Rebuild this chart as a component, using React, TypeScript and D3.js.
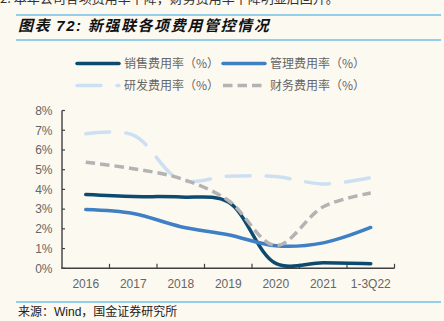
import React from 'react';
import * as d3 from 'd3';

const categories = ['2016', '2017', '2018', '2019', '2020', '2021', '1-3Q22'];
const salesRate = [3.74, 3.64, 3.61, 3.36, 0.25, 0.28, 0.23];
const adminRate = [2.98, 2.78, 2.11, 1.7, 1.14, 1.29, 2.07];
const rndRate = [6.82, 6.75, 4.47, 4.67, 4.65, 4.28, 4.59];
const finRate = [5.38, 5.05, 4.55, 3.44, 1.15, 3.12, 3.82];
const yTicks = [0, 1, 2, 3, 4, 5, 6, 7, 8];
const seriesNames = ['销售费用率（%）', '管理费用率（%）', '研发费用率（%）', '财务费用率（%）'];

const W = 444;
const H = 321;
const BG = '#fcf9f1';
const AXIS = '#404040';
const LABEL = '#666666';
const RULE = '#2ea3e0';
const LATIN = '"Liberation Sans", Arial, "Noto Sans CJK SC", sans-serif';
const CJK = '"Noto Sans CJK SC", "Liberation Sans", sans-serif';

const styles = [
  { color: '#0d4a70', dash: undefined as string | undefined, cap: 'round' },
  { color: '#3f7fc3', dash: undefined as string | undefined, cap: 'round' },
  { color: '#cde0f3', dash: '24,16', cap: 'round' },
  { color: '#b3b3b3', dash: '9.5,5', cap: 'butt' },
];

export default function App() {
  const x = d3.scaleBand<string>().domain(categories).range([62, 394.5]).padding(0);
  const y = d3.scaleLinear().domain([0, 8]).range([268.3, 110.5]);
  const cx = (c: string) => (x(c) as number) + x.bandwidth() / 2;
  const line = d3
    .line<number>()
    .x((_, i) => cx(categories[i]))
    .y((d) => y(d))
    .curve(d3.curveCatmullRom.alpha(0.5));
  const data = [salesRate, adminRate, rndRate, finRate];
  const boundaries = categories.map((c) => (x(c) as number) + x.bandwidth());

  const legendPos = [
    { lx: 77, ly: 63.5 },
    { lx: 223, ly: 63.5 },
    { lx: 77, ly: 85.5 },
    { lx: 223, ly: 85.5 },
  ];

  return (
    <svg
      width={W}
      height={H}
      style={{ position: 'absolute', left: 0, top: 0, background: BG }}
    >
      <rect x={0} y={0} width={W} height={H} fill={BG} />
      <text x={0} y={3} fontFamily={CJK} fontSize={13} fill="#333">
        2. 本年公司各项费用率下降，财务费用率下降明显后回升。
      </text>
      <line x1={16} x2={441} y1={15} y2={15} stroke={RULE} strokeWidth={1.2} />
      <text
        x={18}
        y={31}
        fontFamily={CJK}
        fontSize={15}
        fontWeight={700}
        fontStyle="italic"
        fill="#111"
        letterSpacing={1.6}
      >
        图表 <tspan fontFamily={LATIN}>72:</tspan> 新强联各项费用管控情况
      </text>
      <line x1={16} x2={441} y1={40} y2={40} stroke={RULE} strokeWidth={1.2} />

      {seriesNames.map((name, i) => {
        const s = styles[i];
        const p = legendPos[i];
        return (
          <g key={name}>
            <line
              x1={p.lx}
              x2={p.lx + 42}
              y1={p.ly}
              y2={p.ly}
              stroke={s.color}
              strokeWidth={3.5}
              strokeDasharray={s.dash}
              strokeLinecap={s.cap as any}
            />
            <text
              x={p.lx + 47}
              y={p.ly}
              dy="0.36em"
              fontFamily={CJK}
              fontSize={12}
              fill={LABEL}
            >
              {name}
            </text>
          </g>
        );
      })}

      {yTicks.map((t) => (
        <g key={t}>
          <line x1={62} x2={65} y1={y(t)} y2={y(t)} stroke={AXIS} strokeWidth={1.2} />
          <text
            x={52.5}
            y={y(t)}
            dy="0.36em"
            textAnchor="end"
            fontFamily={LATIN}
            fontSize={12}
            fill={LABEL}
          >
            {t}%
          </text>
        </g>
      ))}
      {boundaries.map((b, i) => (
        <line key={i} x1={b} x2={b} y1={y(0)} y2={y(0) - 4.5} stroke={AXIS} strokeWidth={1.2} />
      ))}
      {categories.map((c) => (
        <text
          key={c}
          x={cx(c)}
          y={287.5}
          textAnchor="middle"
          fontFamily={LATIN}
          fontSize={12}
          fill={LABEL}
        >
          {c}
        </text>
      ))}

      {data.map((d, i) => {
        const s = styles[i];
        return (
          <path
            key={i}
            d={line(d) || ''}
            fill="none"
            stroke={s.color}
            strokeWidth={3.5}
            strokeDasharray={s.dash}
            strokeLinecap={s.cap as any}
            strokeLinejoin="round"
          />
        );
      })}

      <line x1={62} x2={62} y1={y(8)} y2={y(0)} stroke={AXIS} strokeWidth={1.4} />
      <line x1={61.3} x2={394.5} y1={y(0)} y2={y(0)} stroke={AXIS} strokeWidth={1.4} />

      <line x1={16} x2={441} y1={302} y2={302} stroke={RULE} strokeWidth={1.2} />
      <text x={18} y={316} fontFamily={CJK} fontSize={12} fill="#222">
        来源：<tspan fontFamily={LATIN}>Wind</tspan>，国金证券研究所
      </text>
    </svg>
  );
}
